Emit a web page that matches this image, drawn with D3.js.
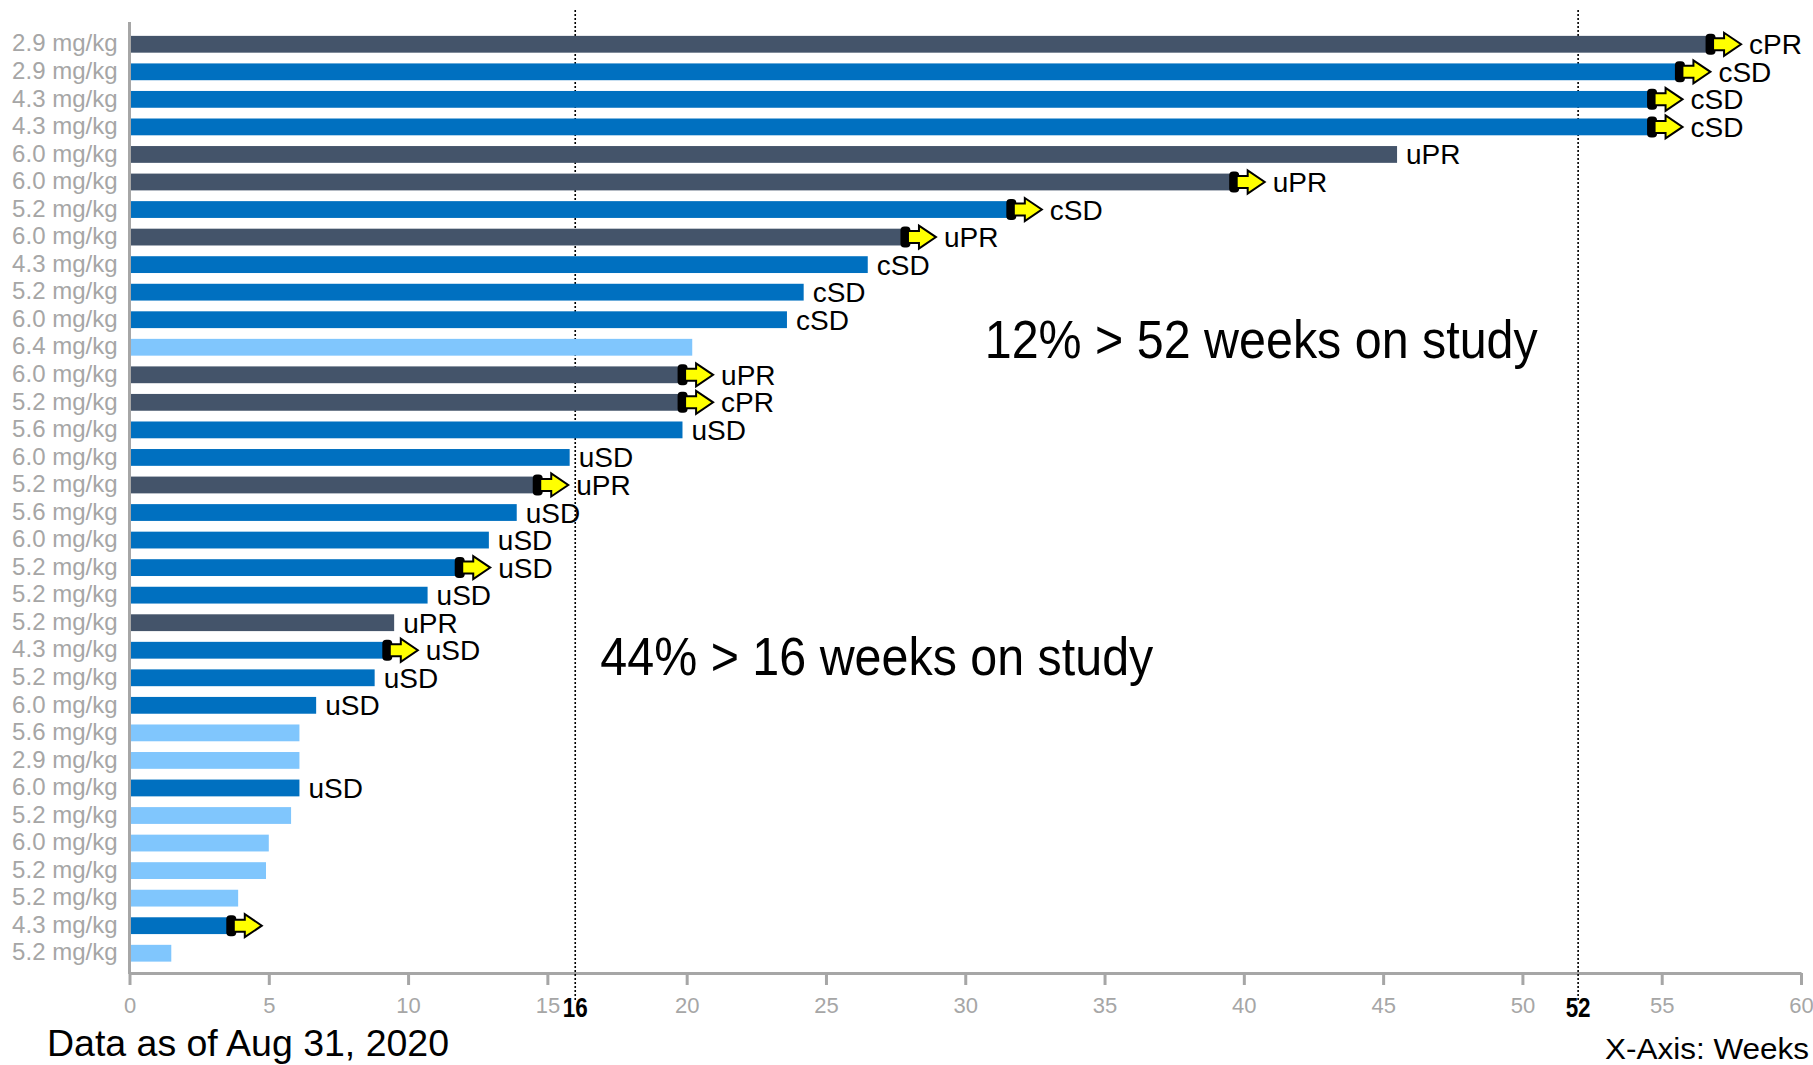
<!DOCTYPE html>
<html>
<head>
<meta charset="utf-8">
<script src="https://cdn.jsdelivr.net/npm/d3@7"></script>
<style>
  body { margin: 0; background: #fff; }
  svg { display: block; font-family: "Liberation Sans", Arial, Helvetica, sans-serif; }
</style>
</head>
<body>
<svg id="chart" width="1813" height="1065"></svg>
<script>
// one entry per patient, top to bottom
const doses = [
  "2.9 mg/kg", "2.9 mg/kg", "4.3 mg/kg", "4.3 mg/kg", "6.0 mg/kg", "6.0 mg/kg",
  "5.2 mg/kg", "6.0 mg/kg", "4.3 mg/kg", "5.2 mg/kg", "6.0 mg/kg", "6.4 mg/kg",
  "6.0 mg/kg", "5.2 mg/kg", "5.6 mg/kg", "6.0 mg/kg", "5.2 mg/kg", "5.6 mg/kg",
  "6.0 mg/kg", "5.2 mg/kg", "5.2 mg/kg", "5.2 mg/kg", "4.3 mg/kg", "5.2 mg/kg",
  "6.0 mg/kg", "5.6 mg/kg", "2.9 mg/kg", "6.0 mg/kg", "5.2 mg/kg", "6.0 mg/kg",
  "5.2 mg/kg", "5.2 mg/kg", "4.3 mg/kg", "5.2 mg/kg"
]
const weeks = [
  56.7, 55.6, 54.6, 54.6, 45.5, 39.6,
  31.6, 27.8, 26.5, 24.2, 23.6, 20.2,
  19.8, 19.8, 19.85, 15.8, 14.6, 13.9,
  12.9, 11.8, 10.7, 9.5, 9.2, 8.8,
  6.7, 6.1, 6.1, 6.1, 5.8, 5.0,
  4.9, 3.9, 3.6, 1.5
]
// best response group drives bar colour
const groups = [
  "PR", "SD", "SD", "SD", "PR", "PR",
  "SD", "PR", "SD", "SD", "SD", "NE",
  "PR", "PR", "SD", "SD", "PR", "SD",
  "SD", "SD", "SD", "PR", "SD", "SD",
  "SD", "NE", "NE", "SD", "NE", "NE",
  "NE", "NE", "SD", "NE"
]
const responses = [
  "cPR", "cSD", "cSD", "cSD", "uPR", "uPR",
  "cSD", "uPR", "cSD", "cSD", "cSD", "",
  "uPR", "cPR", "uSD", "uSD", "uPR", "uSD",
  "uSD", "uSD", "uSD", "uPR", "uSD", "uSD",
  "uSD", "", "", "uSD", "", "",
  "", "", "", ""
]
// still on treatment -> arrow
const ongoing = [
  1, 1, 1, 1, 0, 1,
  1, 1, 0, 0, 0, 0,
  1, 1, 0, 0, 1, 0,
  0, 1, 0, 0, 1, 0,
  0, 0, 0, 0, 0, 0,
  0, 0, 1, 0
]
const xTicks = d3.range(0, 61, 5)
const refWeeks = [16, 52]
// anchored in data space: week on x, (fractional) row on y
const notes = [
  {text: "12% > 52 weeks on study", week: 30.7, row: 11.4},
  {text: "44% > 16 weeks on study", week: 16.9, row: 22.9}
]

const colors = {PR: "#44546a", SD: "#0070c0", NE: "#80c6fd"}

const svg = d3.select("#chart")
const rows = d3.range(doses.length)

const x = d3.scaleLinear().domain([0, 60]).range([129.5, 1801])
const y = d3.scaleBand().domain(rows).range([30.5, 967])
  .paddingInner(0.39).paddingOuter(0.195)
const mid = (i) => y(i) + y.bandwidth() / 2
const rowY = d3.scaleLinear().domain([0, rows.length - 1]).range([mid(0), mid(rows.length - 1)])

// x axis
const xAxis = svg.append("g")
  .attr("transform", `translate(0,973)`)
  .call(d3.axisBottom(x).tickValues(xTicks).tickSize(12).tickSizeOuter(0).tickPadding(12))
xAxis.select(".domain").attr("stroke", "#a6a6a6").attr("stroke-width", 3)
xAxis.selectAll(".tick line").attr("stroke", "#a6a6a6").attr("stroke-width", 3)
xAxis.selectAll(".tick text")
  .attr("fill", "#a6a6a6")
  .style("font-size", "22px")
  .style("font-family", "'Liberation Sans', Arial, sans-serif")

// y axis: dose labels
const yAxis = svg.append("g")
  .attr("transform", `translate(${x(0)},0)`)
  .call(d3.axisLeft(y).tickFormat((i) => doses[i]).tickSize(0).tickPadding(12))
yAxis.select(".domain").remove()
yAxis.selectAll(".tick text")
  .attr("fill", "#a6a6a6")
  .attr("dy", "0.3em")
  .style("font-size", "24px")
  .style("font-family", "'Liberation Sans', Arial, sans-serif")

svg.append("line")
  .attr("x1", x(0)).attr("x2", x(0))
  .attr("y1", 22).attr("y2", 974)
  .attr("stroke", "#a6a6a6")
  .attr("stroke-width", 3)

// reference lines at 16 and 52 weeks
svg.selectAll(".refline")
  .data(refWeeks)
  .join("line")
  .attr("class", "refline")
  .attr("x1", (d) => x(d)).attr("x2", (d) => x(d))
  .attr("y1", 10).attr("y2", 1000)
  .attr("stroke", "#000")
  .attr("stroke-width", 1.6)
  .attr("stroke-dasharray", "2,2")

svg.selectAll(".reflabel")
  .data(refWeeks)
  .join("text")
  .attr("class", "reflabel")
  .attr("x", (d) => x(d))
  .attr("y", 1017)
  .attr("text-anchor", "middle")
  .attr("font-weight", "bold")
  .attr("font-size", 27)
  .attr("textLength", 25)
  .attr("lengthAdjust", "spacingAndGlyphs")
  .attr("fill", "#000")
  .text((d) => d)

// bars
svg.selectAll(".bar")
  .data(rows)
  .join("rect")
  .attr("class", "bar")
  .attr("x", x(0) + 1.5)
  .attr("y", (i) => y(i))
  .attr("width", (i) => x(weeks[i]) - x(0) - 1.5)
  .attr("height", y.bandwidth())
  .attr("fill", (i) => colors[groups[i]])

// ongoing arrows
const arrowRows = rows.filter((i) => ongoing[i])
const arrows = svg.selectAll(".arrow")
  .data(arrowRows)
  .join("g")
  .attr("class", "arrow")
  .attr("transform", (i) => `translate(${x(weeks[i])},${mid(i)})`)

arrows.append("rect")
  .attr("x", -3.5).attr("y", -10.5)
  .attr("width", 10).attr("height", 21)
  .attr("rx", 4)
  .attr("fill", "#000")

arrows.append("path")
  .attr("d", "M4,-6 L15,-6 L15,-11.5 L32,0 L15,11.5 L15,6 L4,6 Z")
  .attr("fill", "#ffff00")
  .attr("stroke", "#000")
  .attr("stroke-width", 2)
  .attr("stroke-linejoin", "miter")

// response labels
svg.selectAll(".resp")
  .data(rows.filter((i) => responses[i] !== ""))
  .join("text")
  .attr("class", "resp")
  .attr("x", (i) => x(weeks[i]) + (ongoing[i] ? 40 : 9))
  .attr("y", (i) => mid(i) + 10)
  .attr("font-size", 28)
  .attr("fill", "#000")
  .text((i) => responses[i])

// big notes
svg.selectAll(".note")
  .data(notes)
  .join("text")
  .attr("class", "note")
  .attr("x", (d) => x(d.week))
  .attr("y", (d) => rowY(d.row))
  .attr("font-size", 53)
  .attr("textLength", 553)
  .attr("lengthAdjust", "spacingAndGlyphs")
  .attr("fill", "#000")
  .text((d) => d.text)

svg.append("text")
  .attr("x", 47)
  .attr("y", 1056)
  .attr("font-size", 37)
  .attr("textLength", 402)
  .attr("lengthAdjust", "spacingAndGlyphs")
  .attr("fill", "#000")
  .text("Data as of Aug 31, 2020")

svg.append("text")
  .attr("x", 1809)
  .attr("y", 1059)
  .attr("text-anchor", "end")
  .attr("font-size", 30)
  .attr("textLength", 204)
  .attr("lengthAdjust", "spacingAndGlyphs")
  .attr("fill", "#000")
  .text("X-Axis: Weeks")
</script>
</body>
</html>
